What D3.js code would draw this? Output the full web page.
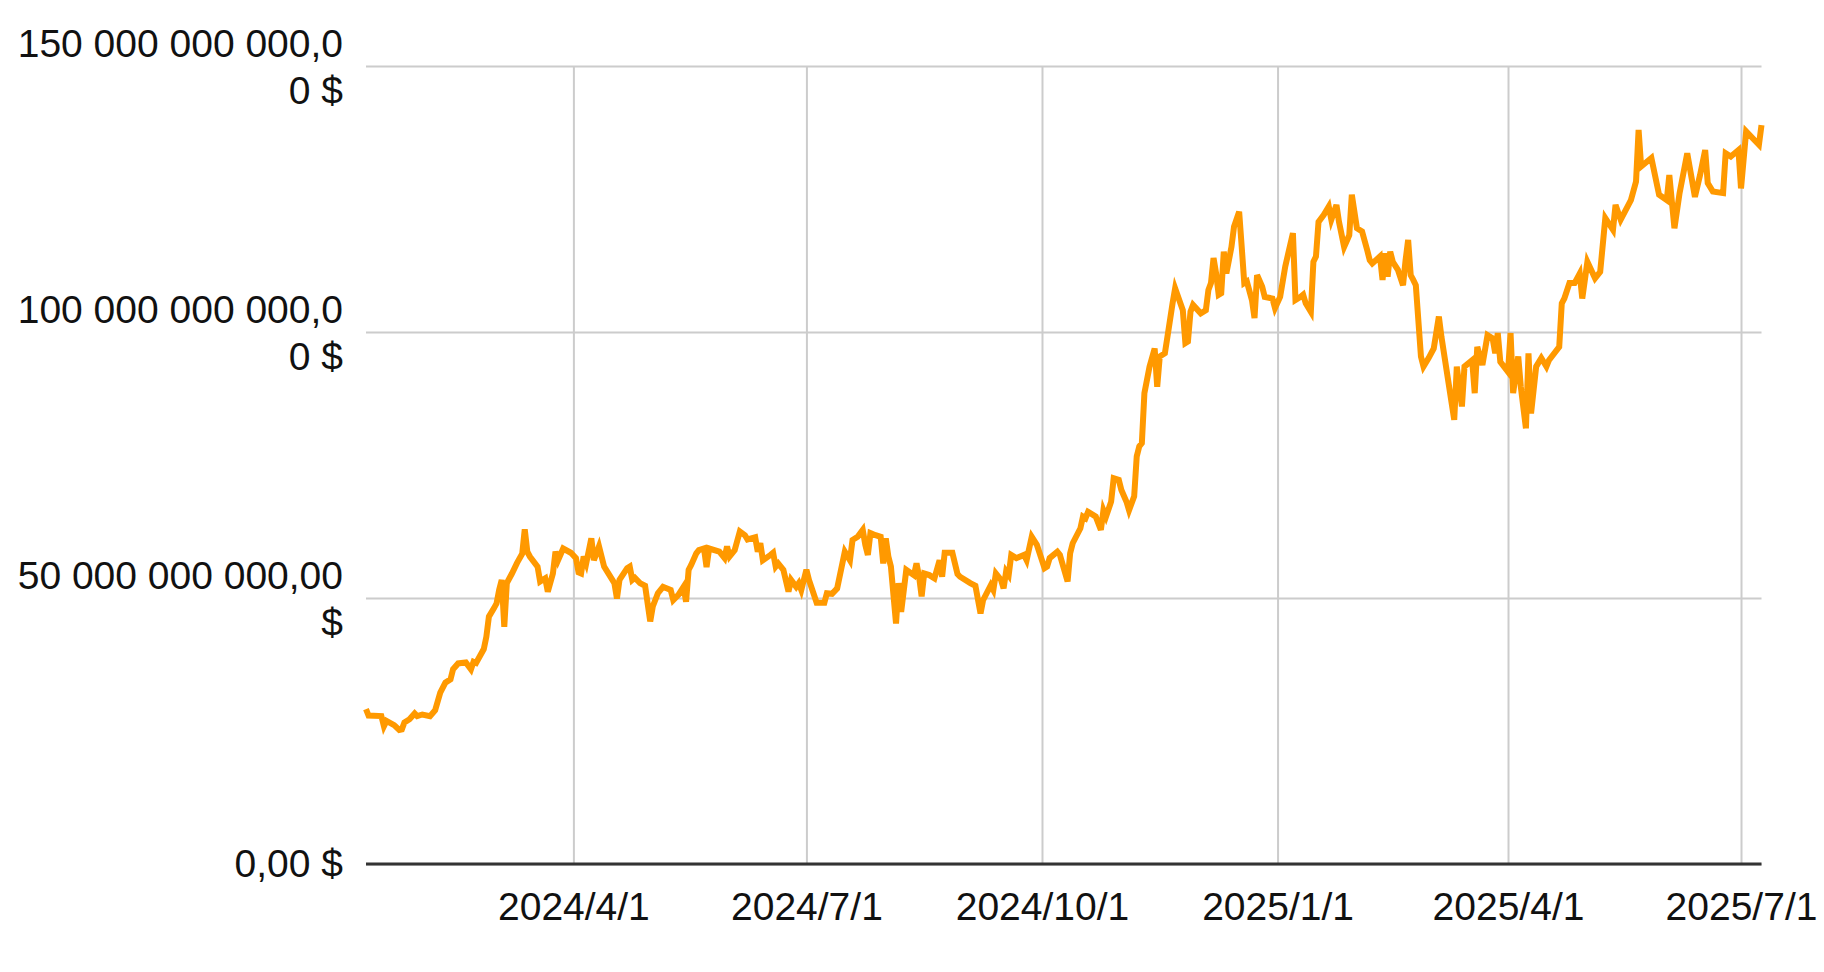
<!DOCTYPE html>
<html>
<head>
<meta charset="utf-8">
<script src="https://cdn.jsdelivr.net/npm/d3@7"></script>
<style>
  body { margin: 0; background: #fff; }
  svg { display: block; font-family: "Liberation Sans", Arial, sans-serif; }
</style>
</head>
<body>
<div class="canvas"></div>
<script>
// series start date, x values are days after it
const startDate = new Date(2024, 0, 11);

const dayOffsets = [
  0, 1, 6, 7, 8, 11, 13, 14, 15, 17, 19, 20, 22, 25, 27, 29, 31, 33, 34, 36,
  39, 41, 42, 43, 46, 47, 48, 50, 51, 52, 53, 54, 55, 57, 59, 61, 62, 63, 64, 67,
  68, 70, 71, 73, 74, 75, 77, 80, 82, 83, 84, 85, 86, 88, 89, 91, 93, 97, 98, 99,
  102, 103, 104, 105, 107, 109, 111, 112, 114, 116, 119, 120, 122, 124, 125, 126, 127, 129, 130, 132,
  133, 134, 138, 140, 141, 142, 144, 146, 148, 149, 152, 153, 154, 155, 158, 159, 160, 161, 163, 165,
  166, 168, 169, 170, 172, 173, 176, 179, 180, 182, 184, 187, 189, 190, 192, 194, 195, 196, 197, 199,
  201, 202, 203, 204, 205, 207, 208, 209, 211, 214, 215, 216, 217, 218, 220, 222, 224, 225, 226, 229,
  231, 232, 236, 238, 240, 241, 244, 245, 246, 248, 249, 250, 251, 252, 254, 257, 258, 260, 262, 265,
  266, 267, 270, 271, 274, 275, 276, 279, 280, 281, 282, 285, 287, 288, 289, 291, 292, 294, 295, 297,
  298, 300, 301, 302, 303, 304, 306, 308, 309, 310, 312, 313, 315, 316, 319, 320, 321, 322, 323, 326,
  328, 329, 330, 331, 332, 333, 334, 335, 336, 338, 339, 341, 342, 343, 344, 346, 347, 348, 350, 351,
  354, 355, 357, 359, 362, 363, 365, 366, 367, 369, 370, 371, 372, 374, 376, 377, 379, 380, 382, 384,
  385, 387, 389, 391, 392, 393, 396, 397, 398, 399, 400, 401, 403, 405, 406, 407, 408, 409, 410, 412,
  413, 415, 417, 419, 420, 425, 426, 428, 429, 432, 433, 434, 436, 438, 440, 441, 442, 443, 446, 447,
  448, 450, 451, 453, 454, 455, 457, 459, 461, 462, 466, 467, 468, 470, 472, 474, 475, 477, 480, 482,
  484, 487, 488, 490, 494, 496, 497, 498, 502, 505, 508, 509, 511, 513, 516, 519, 521, 523, 524, 526,
  530, 531, 533, 536, 537, 539, 544, 545
];

// net assets, billions of dollars
const assetValues = [
  29.1, 27.9, 27.8, 25.9, 26.9, 26.1, 25.2, 25.3, 26.6, 27.2, 28.3, 27.8, 28.1, 27.8, 28.9, 32.2, 34.1, 34.7, 36.6, 37.7,
  37.9, 36.6, 38.0, 37.8, 40.4, 42.7, 46.5, 48.1, 49.0, 51.5, 53.4, 44.6, 52.8, 54.6, 56.6, 58.3, 62.9, 58.7, 57.8, 55.9,
  53.1, 53.7, 51.2, 54.6, 58.7, 57.1, 59.3, 58.5, 57.5, 54.8, 54.6, 57.8, 56.5, 61.2, 57.1, 59.7, 55.9, 52.8, 49.9, 53.4,
  55.6, 55.9, 53.4, 53.8, 52.8, 52.3, 45.6, 48.4, 50.9, 52.1, 51.5, 49.6, 50.6, 52.1, 49.3, 55.3, 56.2, 58.4, 59.0, 59.3,
  55.8, 59.3, 58.7, 57.5, 59.7, 57.8, 59.0, 62.5, 61.8, 61.0, 61.4, 58.7, 60.3, 57.1, 58.1, 58.5, 55.9, 56.5, 55.3, 51.2,
  53.4, 52.1, 52.8, 51.5, 55.3, 53.4, 49.1, 49.1, 50.9, 50.8, 51.8, 58.7, 57.1, 60.9, 61.5, 62.8, 60.0, 58.1, 62.2, 61.8,
  61.5, 56.5, 61.2, 57.8, 55.9, 45.2, 52.8, 47.4, 55.3, 54.3, 56.5, 54.0, 50.3, 54.6, 54.3, 53.7, 57.1, 54.0, 58.5, 58.5,
  54.5, 54.0, 52.8, 52.3, 47.1, 49.6, 52.4, 51.5, 54.6, 53.4, 51.8, 55.0, 54.3, 58.1, 57.5, 58.1, 57.1, 61.5, 60.0, 55.6,
  55.9, 57.5, 58.7, 58.1, 53.1, 58.4, 60.3, 63.1, 65.3, 65.0, 66.2, 65.3, 62.8, 66.5, 65.3, 68.1, 72.5, 72.2, 70.3, 68.1,
  66.5, 69.1, 76.6, 78.5, 79.1, 88.5, 93.5, 96.9, 89.7, 95.4, 96.0, 99.1, 105.4, 108.2, 104.1, 97.9, 98.2, 103.8, 105.1, 103.5,
  104.1, 107.9, 109.2, 113.9, 111.0, 107.0, 107.3, 115.1, 111.0, 116.0, 119.8, 122.6, 116.0, 109.2, 109.5, 106.0, 102.6, 110.7, 108.5, 106.6,
  106.3, 104.5, 106.6, 112.3, 118.6, 106.0, 106.6, 107.0, 105.4, 103.8, 113.2, 114.2, 120.7, 122.0, 123.6, 121.1, 123.9, 120.7, 116.0, 118.2,
  125.8, 119.5, 118.9, 115.4, 113.5, 112.9, 114.2, 109.8, 114.8, 110.4, 115.1, 113.2, 111.7, 108.8, 113.5, 117.3, 110.7, 109.8, 108.8, 95.4,
  93.5, 95.1, 96.9, 102.9, 99.1, 83.5, 93.5, 86.0, 93.5, 94.7, 88.5, 97.2, 93.8, 99.4, 98.8, 96.0, 99.8, 94.4, 92.5, 99.8,
  88.5, 95.4, 89.7, 81.9, 96.0, 84.7, 93.5, 95.1, 93.5, 94.7, 97.2, 105.4, 106.3, 109.2, 109.2, 111.0, 106.3, 113.2, 110.1, 111.3,
  121.4, 119.2, 123.9, 121.1, 124.8, 128.3, 138.0, 131.1, 132.7, 125.8, 124.8, 129.5, 119.5, 126.1, 133.6, 125.4, 129.5, 134.2, 128.0, 126.4,
  126.1, 133.6, 133.0, 134.2, 127.0, 137.7, 135.2, 138.9
];

const yTicks = [0, 50, 100, 150];
const yTickLabels = [
  ["0,00 $"],
  ["50 000 000 000,00", "$"],
  ["100 000 000 000,0", "0 $"],
  ["150 000 000 000,0", "0 $"]
];
const xTickDates = [
  new Date(2024, 3, 1), new Date(2024, 6, 1), new Date(2024, 9, 1),
  new Date(2025, 0, 1), new Date(2025, 3, 1), new Date(2025, 6, 1)
];
const xTickLabels = ["2024/4/1", "2024/7/1", "2024/10/1", "2025/1/1", "2025/4/1", "2025/7/1"];

const dims = { width: 1824, height: 972 };
const plot = { left: 366, right: 1761.5, top: 66, bottom: 864 };
const fontSize = 39;

const data = dayOffsets.map((d, i) => ({
  date: d3.timeDay.offset(startDate, d),
  value: assetValues[i]
}));

const x = d3.scaleTime()
  .domain([startDate, d3.timeDay.offset(startDate, 545)])
  .range([plot.left, plot.right]);

const y = d3.scaleLinear()
  .domain([0, 150])
  .range([plot.bottom, plot.top]);

const svg = d3.select('.canvas')
  .append('svg')
  .attr('width', dims.width)
  .attr('height', dims.height);

// horizontal gridlines
const yGrid = svg.append('g')
  .attr('transform', `translate(${plot.left},0)`)
  .call(d3.axisLeft(y).tickValues(yTicks).tickSize(-(plot.right - plot.left)).tickFormat(''));
yGrid.select('.domain').remove();
yGrid.selectAll('line').attr('stroke', '#cccccc').attr('stroke-width', 2);

// vertical gridlines
const xGrid = svg.append('g')
  .attr('transform', `translate(0,${plot.bottom})`)
  .call(d3.axisBottom(x).tickValues(xTickDates).tickSize(-(plot.bottom - plot.top)).tickFormat(''));
xGrid.select('.domain').remove();
xGrid.selectAll('line').attr('stroke', '#cccccc').attr('stroke-width', 2);

// baseline
svg.append('line')
  .attr('x1', plot.left)
  .attr('x2', plot.right)
  .attr('y1', y(0))
  .attr('y2', y(0))
  .attr('stroke', '#333333')
  .attr('stroke-width', 3);

// y labels, wrapped on two lines like the original
const yAxis = svg.append('g')
  .attr('transform', `translate(${plot.left},0)`)
  .call(d3.axisLeft(y).tickValues(yTicks).tickSize(0).tickPadding(23).tickFormat(''));
yAxis.select('.domain').remove();
yAxis.selectAll('.tick text').each(function(d) {
  const lines = yTickLabels[yTicks.indexOf(d)];
  const t = d3.select(this)
    .attr('dy', null)
    .attr('fill', '#111')
    .style('font-size', fontSize + 'px')
    .style('font-family', '"Liberation Sans", Arial, sans-serif');
  const first = lines.length > 1 ? 12.5 - 22 : 12.5;
  lines.forEach((line, i) => {
    t.append('tspan')
      .attr('x', -23)
      .attr('y', i === 0 ? first : first + 46.8)
      .text(line);
  });
});

// x labels
const xAxis = svg.append('g')
  .attr('transform', `translate(0,${plot.bottom})`)
  .call(d3.axisBottom(x).tickValues(xTickDates).tickSize(0).tickPadding(28)
    .tickFormat((d, i) => xTickLabels[i]));
xAxis.select('.domain').remove();
xAxis.selectAll('.tick text')
  .attr('fill', '#111')
  .style('font-size', fontSize + 'px')
  .style('font-family', '"Liberation Sans", Arial, sans-serif');

// series line
const line = d3.line()
  .x(d => x(d.date))
  .y(d => y(d.value));

svg.append('path')
  .datum(data)
  .attr('fill', 'none')
  .attr('stroke', '#ff9900')
  .attr('stroke-width', 6)
  .attr('stroke-linejoin', 'miter')
  .attr('d', line);
</script>
</body>
</html>
